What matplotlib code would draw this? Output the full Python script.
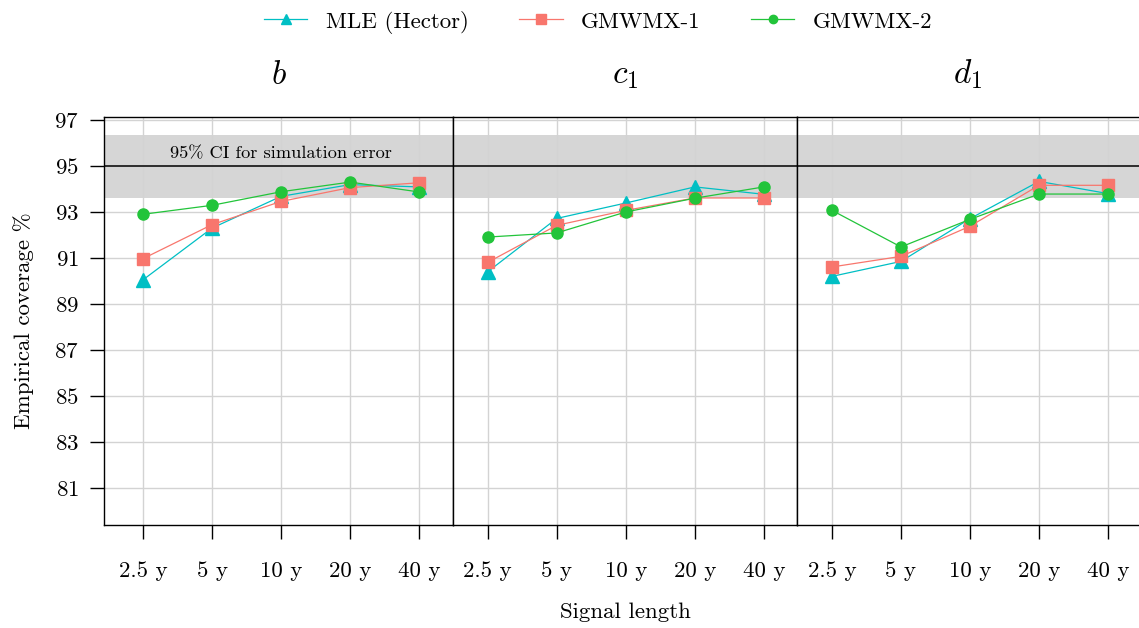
import matplotlib
matplotlib.use("Agg")
import matplotlib.pyplot as plt

plt.rcParams['font.family'] = ['cmr10', 'DejaVu Serif']
plt.rcParams['mathtext.fontset'] = 'cm'
plt.rcParams['axes.formatter.use_mathtext'] = True

lengths = ['2.5 y', '5 y', '10 y', '20 y', '40 y']
panels = ['$b$', '$c_1$', '$d_1$']
series_names = ['MLE (Hector)', 'GMWMX-1', 'GMWMX-2']

mle_b = [90.05, 92.30, 93.68, 94.19, 94.09]
gm1_b = [90.97, 92.45, 93.46, 94.06, 94.27]
gm2_b = [92.90, 93.29, 93.88, 94.30, 93.87]

mle_c = [90.40, 92.72, 93.39, 94.09, 93.77]
gm1_c = [90.81, 92.42, 93.07, 93.61, 93.61]
gm2_c = [91.91, 92.09, 93.00, 93.60, 94.09]

mle_d = [90.20, 90.85, 92.71, 94.33, 93.80]
gm1_d = [90.61, 91.07, 92.38, 94.16, 94.16]
gm2_d = [93.07, 91.48, 92.68, 93.78, 93.78]

ci_low, ci_high, nominal = 93.61, 96.35, 95
yticks = [81, 83, 85, 87, 89, 91, 93, 95, 97]

data = [[mle_b, gm1_b, gm2_b], [mle_c, gm1_c, gm2_c], [mle_d, gm1_d, gm2_d]]
colors = ['#00BFC4', '#F8766D', '#22C43A']
markers = ['^', 's', 'o']
msizes = [10, 9, 8]

W, H = 1139, 628
fig = plt.figure(figsize=(W / 100, H / 100), dpi=100)

# panel pixel extents and x limits
px = [(104, 453), (453, 797), (797, 1139)]
xlims = [(-0.565, 4.49), (-0.503, 4.48), (-0.507, 4.45)]
y0, y1 = 525, 117

handles = []
for i in range(3):
    l, r = px[i]
    ax = fig.add_axes([l / W, (H - y0) / H, (r - l) / W, (y0 - y1) / H])
    ax.axhspan(ci_low, ci_high, color='#D6D6D6', lw=0, zorder=0)
    ax.axhline(nominal, color='black', lw=1.1, zorder=1)
    for k in range(3):
        h, = ax.plot(range(5), data[i][k], color=colors[k], marker=markers[k],
                     ms=msizes[k], lw=0.9, zorder=3 + k)
        if i == 0:
            handles.append(h)
    ax.set_xlim(*xlims[i])
    ax.set_ylim(79.39, 97.13)
    ax.set_xticks(range(5))
    ax.set_xticklabels(lengths)
    ax.set_yticks(yticks)
    ax.grid(True, color='#D3D3D3', lw=1, zorder=0.5)
    ax.set_axisbelow(True)
    ax.tick_params(axis='x', direction='out', length=10, width=1, pad=16,
                   labelsize=16.5)
    ax.tick_params(axis='y', direction='out', length=10, width=1, pad=8,
                   labelsize=16.5)
    if i > 0:
        ax.tick_params(axis='y', left=False, labelleft=False)
    if i == 2:
        ax.spines['right'].set_visible(False)
    for s in ax.spines.values():
        s.set_linewidth(1)
    ax.set_title(panels[i], fontsize=24, pad=24)
    if i == 0:
        ax.set_ylabel('Empirical coverage %', fontsize=16.5, labelpad=15)
        ax.text(2, 95.55, '95% CI for simulation error', ha='center',
                va='center', fontsize=13.2)
    if i == 1:
        ax.set_xlabel('Signal length', fontsize=16.5, labelpad=16)

fig.legend(handles, series_names, loc='center', ncol=3,
           bbox_to_anchor=(598 / W, 1 - 22 / H), frameon=False,
           fontsize=16.5, markerscale=0.75, handlelength=1.9,
           columnspacing=2.2, handletextpad=0.8)

fig.savefig('out.png', dpi=100)
